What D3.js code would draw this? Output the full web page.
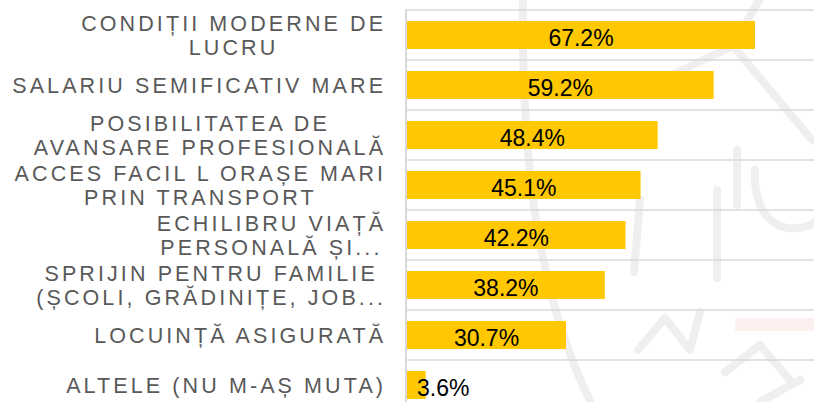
<!DOCTYPE html>
<html>
<head>
<meta charset="utf-8">
<script src="https://cdn.jsdelivr.net/npm/d3@7/dist/d3.min.js"></script>
<style>
  html, body { margin: 0; padding: 0; background: #ffffff; }
  svg { display: block; }
</style>
</head>
<body>
<svg id="chart" width="814" height="402"></svg>
<script>
// Survey answers: reasons for relocating, share of respondents (%)
const categories = [
  ["CONDIȚII MODERNE DE", "LUCRU"],
  ["SALARIU SEMIFICATIV MARE"],
  ["POSIBILITATEA DE", "AVANSARE PROFESIONALĂ"],
  ["ACCES FACIL L ORAȘE MARI", "PRIN TRANSPORT"],
  ["ECHILIBRU VIAȚĂ", "PERSONALĂ ȘI..."],
  ["SPRIJIN PENTRU FAMILIE", "(ȘCOLI, GRĂDINIȚE, JOB..."],
  ["LOCUINȚĂ ASIGURATĂ"],
  ["ALTELE (NU M-AȘ MUTA)"]
];
const values = [67.2, 59.2, 48.4, 45.1, 42.2, 38.2, 30.7, 3.6];
const valueLabels = ["67.2%", "59.2%", "48.4%", "45.1%", "42.2%", "38.2%", "30.7%", "3.6%"];

const svg = d3.select("#chart");
const W = 814, H = 402;

const margin = { left: 407, top: 10 };
const keys = categories.map((c, i) => i);

const y = d3.scaleBand()
  .domain(keys)
  .range([margin.top, margin.top + 50 * keys.length])
  .paddingInner(0.44)
  .paddingOuter(0.22);

const x = d3.scaleLinear()
  .domain([0, 80])
  .range([margin.left, margin.left + 414.3]);

// faint background emblem
const wm = svg.append("g").attr("fill", "none").attr("stroke", "#efefef")
  .attr("stroke-width", 8).attr("stroke-linecap", "round").attr("stroke-linejoin", "round");
wm.append("path").attr("d", "M523,-5 C521,150 535,290 592,405");
wm.append("path").attr("d", "M648,86 L733,46 L762,-5");
wm.append("path").attr("d", "M733,46 L812,140");
wm.append("path").attr("d", "M737,150 L737,205");
wm.append("path").attr("d", "M640,200 L634,272");
wm.append("path").attr("d", "M717,190 L717,278");
wm.append("path").attr("d", "M755,170 C752,225 790,240 818,220");
wm.append("path").attr("d", "M638,350 L665,318 L690,350 L700,312");
wm.append("path").attr("d", "M725,372 L760,345 L790,380 M760,402 L800,380");
svg.append("rect").attr("x", 735).attr("y", 318).attr("width", 82).attr("height", 13)
  .attr("fill", "#fdeeec").attr("opacity", 0.8);

// category separators
const bounds = d3.range(keys.length + 1).map(i => margin.top + 50 * i);
svg.append("g").selectAll("line")
  .data(bounds)
  .join("line")
  .attr("x1", margin.left - 1).attr("x2", W)
  .attr("y1", d => d).attr("y2", d => d)
  .attr("stroke", "#d9d9d9").attr("stroke-width", 1.5);

// vertical axis line
svg.append("line")
  .attr("x1", margin.left - 1).attr("x2", margin.left - 1)
  .attr("y1", margin.top - 0.75).attr("y2", H)
  .attr("stroke", "#d9d9d9").attr("stroke-width", 2);

// bars
svg.append("g").selectAll("rect")
  .data(values)
  .join("rect")
  .attr("x", x(0))
  .attr("y", (d, i) => y(i))
  .attr("width", d => x(d) - x(0))
  .attr("height", y.bandwidth())
  .attr("fill", "#ffc800");

// value labels
svg.append("g").selectAll("text")
  .data(values)
  .join("text")
  .attr("font-family", "'Liberation Sans', Arial, sans-serif")
  .attr("font-size", 23)
  .attr("fill", "#000")
  .each(function (d, i) {
    const t = d3.select(this).text(valueLabels[i]);
    const tw = this.getComputedTextLength();
    const bw = x(d) - x(0);
    const cy = y(i) + y.bandwidth() / 2 + 10.5;
    if (bw > tw + 10) {
      t.attr("x", (x(0) + x(d)) / 2).attr("text-anchor", "middle");
    } else {
      t.attr("x", x(0) + 10).attr("text-anchor", "start");
    }
    t.attr("y", cy);
  });

// category labels: block right-aligned, lines centred within block
const ls = 3.1;
const lineH = 23.5;
const labelRight = 383;
const lab = svg.append("g")
  .attr("font-family", "'Liberation Sans', Arial, sans-serif")
  .attr("font-size", 21.5)
  .attr("fill", "#595959");

categories.forEach((lines, i) => {
  const cy = y(i) + y.bandwidth() / 2;
  const texts = lines.map((s, j) => lab.append("text")
    .attr("letter-spacing", ls)
    .attr("text-anchor", "start")
    .text(s));
  const widths = texts.map(t => t.node().getComputedTextLength() - ls);
  const bw = d3.max(widths);
  const firstBase = cy + 7.8 - (lines.length - 1) * lineH / 2;
  texts.forEach((t, j) => {
    const left = labelRight - bw + (bw - widths[j]) / 2;
    t.attr("x", left).attr("y", firstBase + j * lineH);
  });
});
</script>
</body>
</html>
